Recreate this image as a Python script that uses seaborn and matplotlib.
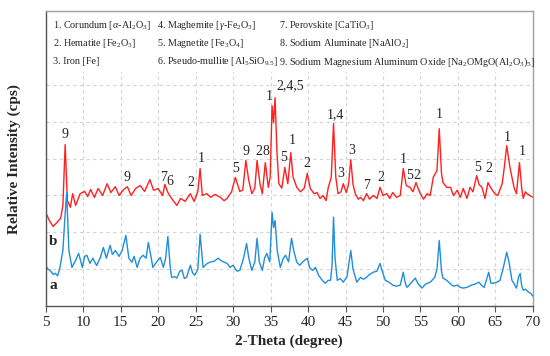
import numpy as np
import pandas as pd
import matplotlib
matplotlib.use("Agg")
import matplotlib.pyplot as plt
import seaborn as sns

# XRD pattern b (red, upper) - 2theta and relative intensity (grid units)
theta_b = [5.0, 5.5, 6.0, 6.5, 7.0, 7.3, 7.6, 7.9, 8.3, 8.6, 9.0, 9.6, 10.2, 10.6, 11.0, 11.5,
           12.0, 12.6, 13.2, 13.7, 14.3, 14.8, 15.4, 15.9, 16.4, 17.0, 17.6, 18.2, 18.9, 19.4,
           20.0, 20.6, 20.9, 21.3, 21.8, 22.5, 23.0, 23.6, 24.3, 24.8, 25.3, 25.6, 25.9, 26.5,
           27.0, 27.6, 28.3, 28.8, 29.2, 29.8, 30.3, 30.9, 31.3, 31.7, 32.1, 32.5, 32.9, 33.2,
           33.6, 33.9, 34.3, 34.7, 34.95, 35.2, 35.4, 35.6, 35.85, 36.1, 36.5, 36.9, 37.3, 37.7,
           38.0, 38.5, 39.0, 39.5, 39.9, 40.3, 40.8, 41.2, 41.6, 42.0, 42.4, 42.7, 43.1, 43.4,
           43.7, 44.0, 44.4, 44.7, 45.1, 45.4, 45.7, 46.0, 46.3, 46.7, 47.0, 47.4, 47.8, 48.2,
           48.7, 49.2, 49.6, 50.0, 50.5, 50.9, 51.3, 51.8, 52.3, 52.7, 53.1, 53.6, 54.0, 54.4,
           54.9, 55.4, 55.9, 56.3, 56.7, 57.2, 57.5, 57.8, 58.0, 58.5, 59.0, 59.4, 59.9, 60.3,
           60.7, 61.2, 61.6, 62.0, 62.5, 62.8, 63.2, 63.6, 64.0, 64.4, 64.9, 65.3, 65.9, 66.2,
           66.5, 66.9, 67.2, 67.5, 67.8, 68.2, 68.5, 68.7, 69.0, 69.2, 69.6, 70.0]
int_b = [2.54, 2.32, 2.16, 2.27, 2.38, 2.73, 4.38, 2.86, 2.68, 3.05, 2.73, 3.05, 3.11, 2.97, 3.16, 2.95,
         3.19, 3.00, 3.32, 3.08, 3.24, 3.00, 3.16, 3.24, 3.00, 3.19, 3.27, 3.11, 3.43, 3.14,
         3.19, 3.00, 3.30, 3.08, 2.92, 2.73, 2.92, 2.84, 3.05, 2.84, 3.10, 3.73, 3.00, 3.05,
         2.95, 3.03, 2.95, 2.86, 2.92, 3.10, 3.49, 3.11, 3.15, 3.95, 3.40, 3.05, 3.20, 3.95,
         3.30, 3.05, 3.89, 3.22, 3.50, 5.43, 4.97, 5.65, 4.20, 3.32, 3.20, 3.76, 3.32, 4.16,
         3.50, 3.22, 3.10, 3.20, 3.60, 3.19, 3.05, 3.08, 2.92, 3.00, 2.86, 3.22, 3.50, 4.95,
         3.50, 3.05, 3.10, 3.32, 3.08, 3.30, 3.97, 3.30, 3.05, 2.90, 2.95, 2.86, 3.05, 2.90,
         3.00, 2.92, 3.22, 3.00, 3.05, 2.92, 3.08, 2.95, 3.00, 3.73, 3.27, 3.22, 3.10, 3.35,
         3.08, 2.90, 3.05, 3.00, 3.49, 3.68, 4.81, 3.60, 3.35, 3.22, 3.22, 3.00, 3.14, 2.95,
         3.19, 2.92, 3.22, 3.10, 3.54, 3.30, 3.22, 2.92, 3.35, 3.20, 3.05, 3.00, 3.32, 3.80,
         4.35, 3.80, 3.49, 3.20, 3.05, 3.89, 3.20, 2.92, 3.10, 3.05, 3.00, 2.95]

# XRD pattern a (blue, lower)
theta_a = [5.0, 5.3, 5.6, 6.0, 6.3, 6.6, 6.9, 7.3, 7.6, 7.8, 8.1, 8.5, 9.0, 9.4, 9.9, 10.2, 10.5,
           10.9, 11.3, 11.8, 12.3, 12.7, 13.1, 13.6, 13.9, 14.3, 14.8, 15.2, 15.7, 16.1, 16.5,
           16.8, 17.2, 17.6, 18.0, 18.4, 18.7, 19.0, 19.3, 19.8, 20.3, 20.7, 21.0, 21.3, 21.6,
           21.8, 22.2, 22.5, 22.9, 23.2, 23.5, 23.8, 24.3, 24.6, 24.9, 25.3, 25.6, 26.0, 26.5,
           26.9, 27.5, 28.0, 28.5, 29.2, 29.6, 30.0, 30.5, 30.9, 31.4, 31.8, 32.1, 32.5, 32.9,
           33.2, 33.5, 33.9, 34.2, 34.5, 34.9, 35.2, 35.4, 35.6, 35.9, 36.3, 36.7, 37.0, 37.4,
           37.8, 38.1, 38.5, 38.9, 39.3, 39.9, 40.2, 40.6, 41.0, 41.4, 41.9, 42.3, 42.7, 43.0,
           43.2, 43.4, 43.6, 43.9, 44.3, 44.7, 45.2, 45.7, 46.0, 46.5, 47.0, 47.4, 47.8, 48.2,
           48.7, 49.2, 49.6, 49.9, 50.3, 50.8, 51.3, 51.8, 52.3, 52.7, 53.0, 53.2, 53.7, 54.3,
           54.7, 55.2, 55.7, 56.3, 56.9, 57.2, 57.5, 57.8, 58.0, 58.5, 58.9, 59.4, 59.9, 60.3,
           60.7, 61.2, 61.8, 62.3, 62.8, 63.1, 63.5, 64.1, 64.4, 64.7, 65.2, 65.6, 66.0, 66.5,
           66.8, 67.2, 67.5, 67.8, 68.1, 68.3, 68.5, 68.7, 69.0, 69.4, 69.7, 70.0]
int_a = [1.11, 1.00, 0.97, 0.86, 0.89, 0.82, 1.05, 1.51, 2.50, 3.08, 1.51, 1.05, 1.24, 1.43, 1.05, 1.35, 1.38,
         1.16, 1.30, 1.10, 1.32, 1.59, 1.30, 1.65, 1.40, 1.51, 1.35, 1.51, 1.92, 1.30, 1.19,
         1.35, 1.05, 1.30, 1.38, 1.30, 1.73, 1.40, 1.05, 1.20, 1.32, 1.05, 1.30, 1.89, 1.10,
         0.78, 0.80, 0.76, 0.95, 0.97, 0.75, 0.78, 1.11, 0.90, 0.84, 1.00, 1.95, 1.05, 1.15,
         1.19, 1.22, 1.30, 1.22, 1.16, 1.05, 1.11, 0.95, 0.97, 1.30, 1.70, 1.30, 0.97, 1.20,
         1.84, 1.20, 0.97, 1.30, 1.43, 1.20, 2.54, 2.13, 2.32, 1.50, 1.05, 1.30, 1.38, 1.20,
         1.84, 1.50, 1.19, 1.11, 1.20, 1.30, 1.05, 0.97, 1.05, 0.84, 0.70, 0.62, 0.70, 0.70,
         1.10, 2.41, 1.30, 0.70, 0.75, 0.65, 0.80, 1.51, 1.00, 0.65, 0.78, 0.73, 0.78, 0.86,
         0.92, 0.95, 1.16, 0.95, 0.70, 0.65, 0.57, 0.54, 0.57, 0.92, 0.60, 0.51, 0.62, 0.76,
         0.60, 0.49, 0.60, 0.65, 0.78, 1.00, 1.78, 0.95, 0.76, 0.70, 0.62, 0.54, 0.57, 0.51,
         0.49, 0.51, 0.57, 0.60, 0.65, 0.57, 0.51, 0.92, 0.62, 0.62, 0.65, 0.70, 1.00, 1.46,
         1.20, 0.70, 0.60, 0.49, 0.80, 0.89, 0.55, 0.43, 0.46, 0.38, 0.35, 0.27]

# peak labels: text, 2theta, height
peak_text = ["9", "9", "7", "6", "2", "1", "5", "9", "2", "8", "1", "2,4,5", "5", "1", "2",
             "1,4", "3", "3", "7", "2", "1", "5", "2", "1", "5", "2", "1", "1"]
peak_x = [7.6, 15.9, 20.7, 21.6, 24.4, 25.8, 30.3, 31.7, 33.4, 34.4, 34.8, 37.6, 36.8, 37.9, 39.8,
          43.6, 44.4, 45.8, 47.8, 49.7, 52.7, 53.5, 54.5, 57.5, 62.6, 64.1, 66.6, 68.6]
peak_y = [4.65, 3.49, 3.49, 3.38, 3.35, 4.0, 3.73, 4.19, 4.19, 4.19, 5.68, 5.97, 4.03, 4.49, 3.86,
          5.2, 3.6, 4.22, 3.27, 3.49, 3.97, 3.54, 3.54, 5.19, 3.76, 3.73, 4.57, 4.19]

legend_items = [
    "1. Corundum [$\\alpha$-Al$_2$O$_3$]",
    "2. Hematite [Fe$_2$O$_3$]",
    "3. Iron [Fe]",
    "4. Maghemite [$\\gamma$-Fe$_2$O$_3$]",
    "5. Magnetite [Fe$_3$O$_4$]",
    "6. Pseudo-mullite [Al$_5$SiO$_{9.5}$]",
    "7. Perovskite [CaTiO$_3$]",
    "8. Sodium Aluminate [NaAlO$_2$]",
    "9. Sodium Magnesium Aluminum Oxide [Na$_2$OMgO(Al$_2$O$_3$)$_5$]",
]

sns.set_theme(style="white")
plt.rcParams['font.family'] = ['Liberation Serif', 'DejaVu Serif']
plt.rcParams['mathtext.fontset'] = 'custom'
plt.rcParams['mathtext.rm'] = 'Liberation Serif'
plt.rcParams['mathtext.it'] = 'Liberation Serif:italic'

df_a = pd.DataFrame({"theta": theta_a, "intensity": int_a})
df_b = pd.DataFrame({"theta": theta_b, "intensity": int_b})

fig = plt.figure(figsize=(5.5, 3.56), dpi=100)
ax = fig.add_axes([0.083, 0.140, 0.886, 0.829])

sns.lineplot(data=df_b, x="theta", y="intensity", color="#ff2020", linewidth=1.0,
             estimator=None, sort=False, ax=ax)
sns.lineplot(data=df_a, x="theta", y="intensity", color="#1f8fd8", linewidth=1.0,
             estimator=None, sort=False, ax=ax)

ax.set_xlim(5, 70)
ax.set_ylim(0, 8)
ax.set_xticks(np.arange(5, 71, 5))
ax.set_yticks(np.arange(0, 9, 1))
ax.set_yticklabels([])
ax.grid(True, color="#d4d4d4", linestyle=(0, (3, 3)), linewidth=0.8)
ax.set_axisbelow(True)
ax.tick_params(axis="x", direction="out", length=4, width=0.8, color="#555555",
               labelsize=11, pad=3, bottom=True)
ax.tick_params(axis="y", length=0, left=False)
for s in ["top", "right"]:
    ax.spines[s].set_color("#a0a0a0")
for s in ["left", "bottom"]:
    ax.spines[s].set_color("#555555")
for s in ax.spines.values():
    s.set_linewidth(1.0)

ax.set_xlabel("2-Theta (degree)", fontsize=11, fontweight="bold", labelpad=4)
ax.set_ylabel("Relative Intensity (cps)", fontsize=11, fontweight="bold", labelpad=14)

# white band behind the legend text hides the grid there
ax.axhspan(6.35, 8, color="white", zorder=1.5, lw=0)

for t, x, y in zip(peak_text, peak_x, peak_y):
    ax.text(x, y, t, fontsize=10, ha="center", va="center")

ax.text(6.0, 1.76, "b", fontsize=11, fontweight="bold", ha="center", va="center")
ax.text(6.0, 0.57, "a", fontsize=11, fontweight="bold", ha="center", va="center")

col_x = [6.0, 19.8, 36.1]
row_y = [7.62, 7.12, 6.62]
for i, item in enumerate(legend_items):
    ax.text(col_x[i // 3], row_y[i % 3], item, fontsize=7.3, ha="left", va="center", zorder=3)

fig.savefig("out.png", dpi=100)
